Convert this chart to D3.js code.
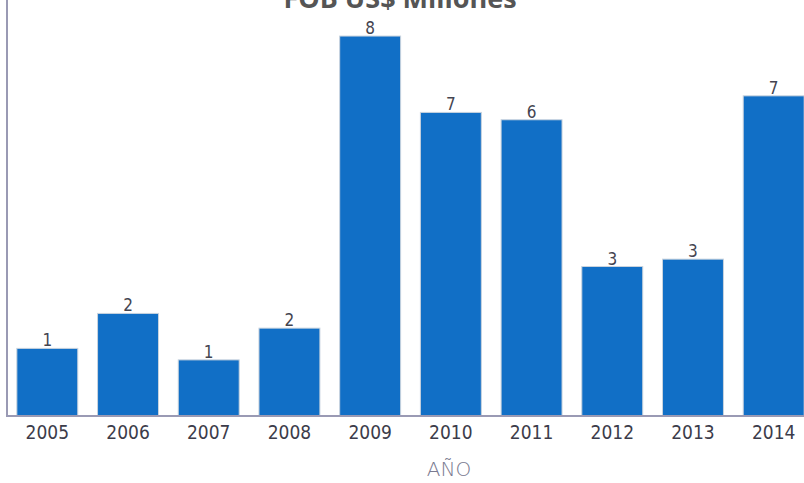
<!DOCTYPE html>
<html><head><meta charset="utf-8">
<script src="https://cdn.jsdelivr.net/npm/d3@7"></script>
<style>body{margin:0;background:#fff;overflow:hidden}</style>
</head><body>
<svg id="c" width="804" height="483"></svg>
<script>
const years = ["2005","2006","2007","2008","2009","2010","2011","2012","2013","2014"];
const values = [1.47, 2.23, 1.22, 1.91, 8.26, 6.60, 6.44, 3.25, 3.41, 6.96];
const title = "FOB US$ Millones";
const xTitle = "AÑO";

const svg = d3.select("#c");
const pLeft = 7, pRight = 814, pBase = 416, pTop = 2;
const x = d3.scaleBand().domain(years).range([pLeft, pRight]).paddingInner(0.245).paddingOuter(0.122);
const y = d3.scaleLinear().domain([0, 9]).range([pBase, pTop]);

svg.append("g").selectAll("rect").data(years).join("rect")
  .attr("x", d => x(d)).attr("width", x.bandwidth())
  .attr("y", (d,i) => y(values[i])).attr("height", (d,i) => pBase - y(values[i]))
  .attr("fill", "#116fc6").attr("stroke", "#c9d3de").attr("stroke-width", 1);

svg.append("g").selectAll("text").data(years).join("text")
  .attr("x", d => x(d) + x.bandwidth()/2).attr("y", (d,i) => y(values[i]) - 2)
  .attr("text-anchor", "middle")
  .attr("font-family", "DejaVu Sans Condensed").attr("font-size", 17).attr("fill", "#444450")
  .text((d,i) => d3.format(".0f")(values[i]));

const xa = svg.append("g").attr("transform", `translate(0,${pBase})`)
  .call(d3.axisBottom(x).tickSize(0).tickPadding(10));
xa.select(".domain").remove();
xa.selectAll("text").attr("font-family", "DejaVu Sans Condensed").attr("font-size", 19)
  .attr("fill", "#3c3c4a");

svg.append("line").attr("x1", pLeft).attr("x2", 804).attr("y1", pBase).attr("y2", pBase)
  .attr("stroke", "#9a9ab4").attr("stroke-width", 2);
const ya = svg.append("g").attr("transform", `translate(${pLeft},0)`)
  .call(d3.axisLeft(y).tickValues([]).tickSize(0));
ya.select(".domain").attr("stroke", "#9a9ab4").attr("stroke-width", 2).attr("d", `M0,${pBase+1}V0`);

svg.append("text").attr("x", 400).attr("y", 8).attr("text-anchor", "middle")
  .attr("font-family", "Open Sans").attr("font-weight", "bold").attr("font-size", 27)
  .attr("fill", "#555").text(title);

svg.append("text").attr("x", 449).attr("y", 476).attr("text-anchor", "middle")
  .attr("font-family", "DejaVu Sans").attr("font-weight", 200).attr("font-size", 20)
  .attr("fill", "#7a7a90").text(xTitle);
</script>
</body></html>
